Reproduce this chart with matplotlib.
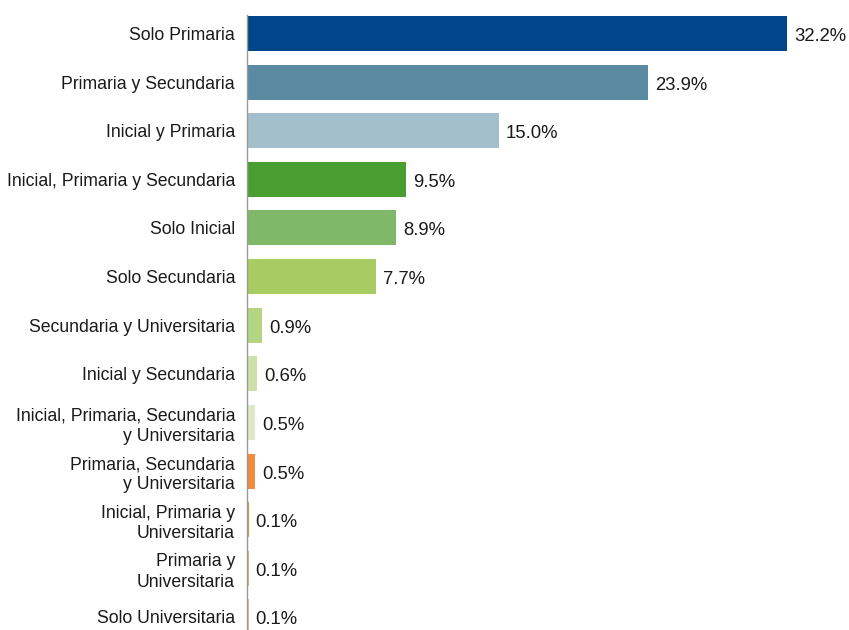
import matplotlib.pyplot as plt
from matplotlib.transforms import ScaledTranslation

# ------------------------------------------------------------
# datos
# ------------------------------------------------------------
categorias = [
    "Solo Primaria",
    "Primaria y Secundaria",
    "Inicial y Primaria",
    "Inicial, Primaria y Secundaria",
    "Solo Inicial",
    "Solo Secundaria",
    "Secundaria y Universitaria",
    "Inicial y Secundaria",
    "Inicial, Primaria, Secundaria\ny Universitaria",
    "Primaria, Secundaria\ny Universitaria",
    "Inicial, Primaria y\nUniversitaria",
    "Primaria y\nUniversitaria",
    "Solo Universitaria",
]
porcentajes = [32.2, 23.9, 15.0, 9.5, 8.9, 7.7, 0.9, 0.6, 0.5, 0.5, 0.1, 0.1, 0.1]
etiquetas = ["32.2%", "23.9%", "15.0%", "9.5%", "8.9%", "7.7%", "0.9%",
             "0.6%", "0.5%", "0.5%", "0.1%", "0.1%", "0.1%"]

colores = [
    "#00468B", "#5B8AA3", "#A3BFCC", "#4A9E31", "#80B86A", "#A9CB63",
    "#B4D682", "#CCE0A8", "#DDEAC8", "#F28C3F", "#F28C3F", "#F4A36A",
    "#F6B88A",
]

# ------------------------------------------------------------
# figura
# ------------------------------------------------------------
plt.rcParams["font.family"] = ["Liberation Sans", "DejaVu Sans"]

fig = plt.figure(figsize=(8.49, 6.30), dpi=100)
ax = fig.add_axes([247 / 849, 0.0, 1 - 247 / 849, 1 - 15 / 630])

pos = list(range(len(categorias)))
ax.barh(pos, porcentajes, height=0.72, color=colores, linewidth=0)

# etiquetas de valor, un poco a la derecha y abajo del final de la barra
desplaz = ScaledTranslation(7 / 100, -3 / 100, fig.dpi_scale_trans)
for y, v, t in zip(pos, porcentajes, etiquetas):
    ax.text(v, y, t, ha="left", va="center", fontsize=13.3, color="#1a1a1a",
            transform=ax.transData + desplaz)

ax.set_yticks(pos)
ax.set_yticklabels(categorias, fontsize=12.7, color="#1a1a1a",
                   linespacing=1.26)
ax.tick_params(axis="y", length=0, pad=8.6)
ax.set_xticks([])

ax.set_xlim(0, 35.9)
ax.set_ylim(12.27, -0.38)

for s in ["top", "right", "bottom"]:
    ax.spines[s].set_visible(False)
ax.spines["left"].set_color("#999999")
ax.spines["left"].set_linewidth(1.0)

fig.savefig("out.png", dpi=100)
